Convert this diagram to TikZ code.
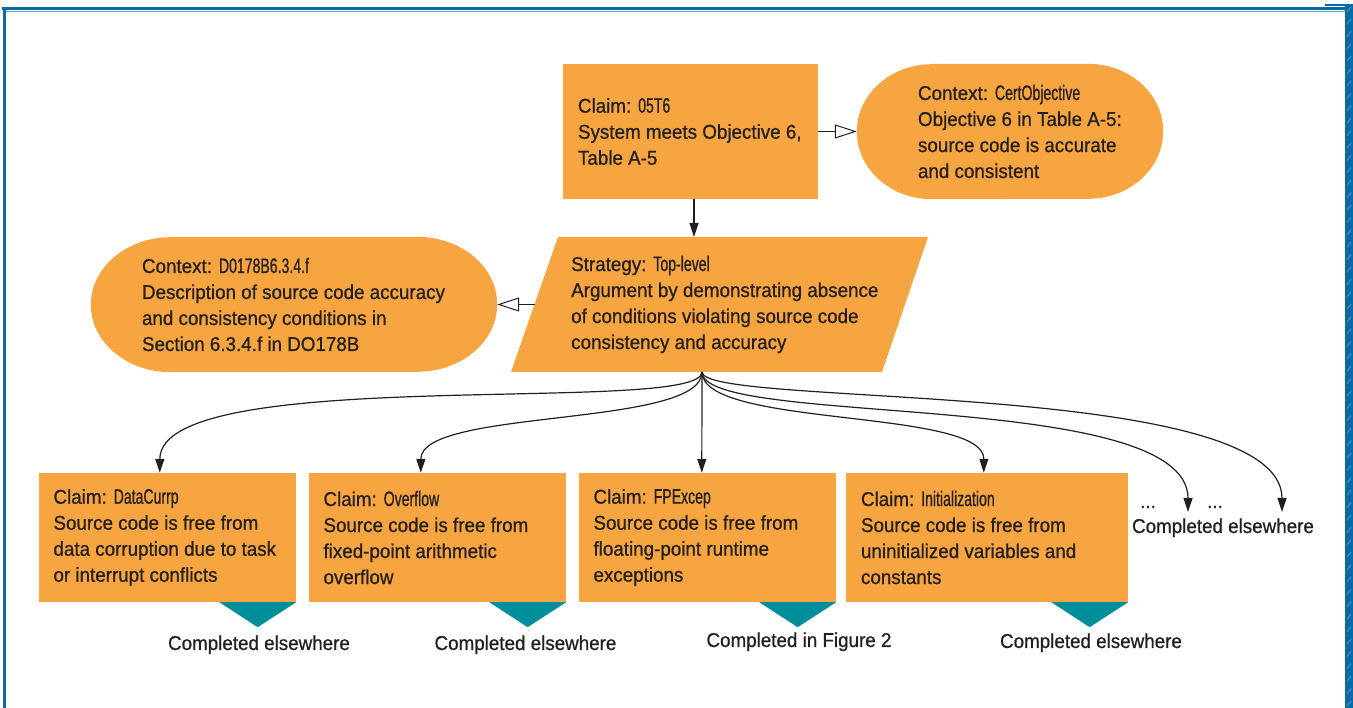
\documentclass[tikz,border=0pt]{standalone}
\usepackage{fontspec}
\setmainfont{Liberation Sans}[FakeStretch=0.94,FakeBold=0.7]
\newfontfamily\idfont{Liberation Sans}[FakeStretch=0.67,FakeBold=0.6]
\newcommand{\ident}[1]{{\idfont\fontsize{21}{26}\selectfont #1}}
\usetikzlibrary{arrows.meta,calc}
\definecolor{gsnorange}{HTML}{F7A541}
\definecolor{gsnteal}{HTML}{008E9B}
\definecolor{frameblue}{HTML}{0A6AA2}
\definecolor{framelight}{HTML}{5FA3C4}
\definecolor{hatchc}{HTML}{3F939F}
\definecolor{ink}{HTML}{231F20}
\begin{document}
\begin{tikzpicture}[x=1pt,y=1pt,
  font=\fontsize{20}{26}\selectfont,
  every node/.style={text=ink},
  box/.style={fill=gsnorange, inner sep=0},
  shapebox/.style={inner sep=0},
  txt/.style={inner sep=0, align=left, anchor=west},
  lbl/.style={inner sep=0, anchor=base},
  conn/.style={draw=ink, line width=1.2pt, -{Triangle[length=14pt,width=9pt]}},
  ctxconn/.style={draw=ink, line width=1.1pt, -{Triangle[length=22pt,width=14pt,fill=white,line width=1pt]}},
  tealtri/.style={fill=gsnteal}
]
\useasboundingbox (0,0) rectangle (1353,708);

% frame
\fill[frameblue] (2,697.5) rectangle (1345,700.5);
\draw[framelight, line width=1pt] (6,696.5) -- (1345,696.5);
\fill[frameblue] (3,0) rectangle (6,700.5);
\fill[frameblue] (1345,0) rectangle (1353,703.5);
\fill[frameblue] (1325,701.5) rectangle (1345,703.5);
\foreach \k in {0,...,56} \draw[hatchc, line width=1.2pt] (1347,{2+\k*12.4}) -- (1351,{7+\k*12.4});

% top claim
\node[box, minimum width=255, minimum height=135] (g1) at (690.5,576.5) {};
\node[txt] (g1t) at ($(g1.west)+(15,0)$) {Claim: \ident{05T6}\\System meets Objective 6,\\Table A-5};

% right context
\node[shapebox, minimum width=306, minimum height=135] (c2) at (1010,576.5) {};
\fill[gsnorange] ($(c2.north west)+(75,0)$) -- ($(c2.north east)+(-75,0)$)
  arc[start angle=90, end angle=-90, x radius=75, y radius=67.5]
  -- ($(c2.south west)+(75,0)$)
  arc[start angle=270, end angle=90, x radius=75, y radius=67.5] -- cycle;
\node[txt] (c2t) at ($(c2.west)+(61,0)$) {Context: \ident{CertObjective}\\Objective 6 in Table A-5:\\source code is accurate\\and consistent};

% strategy
\fill[gsnorange] (558,471) -- (928,471) -- (882,336) -- (511,336) -- cycle;
\node[txt] (st) at (571,403.5) {Strategy: \ident{Top-level}\\Argument by demonstrating absence\\of conditions violating source code\\consistency and accuracy};
\coordinate (sttop) at (694,471);
\coordinate (stbot) at (702,336);
\coordinate (stleft) at (534.7,403.5);

% left context
\node[shapebox, minimum width=406, minimum height=135] (c1) at (294,403.5) {};
\fill[gsnorange] ($(c1.north west)+(80,0)$) -- ($(c1.north east)+(-80,0)$)
  arc[start angle=90, end angle=-90, x radius=80, y radius=67.5]
  -- ($(c1.south west)+(80,0)$)
  arc[start angle=270, end angle=90, x radius=80, y radius=67.5] -- cycle;
\node[txt] (c1t) at ($(c1.west)+(51,0)$) {Context: \ident{D0178B6.3.4.f}\\Description of source code accuracy\\and consistency conditions in\\Section 6.3.4.f in DO178B};

% bottom claims
\node[box, minimum width=257, minimum height=129] (dc) at (167.5,170.5) {};
\node[txt] (dct) at ($(dc.west)+(14.5,0)$) {Claim: \ident{DataCurrp}\\Source code is free from\\data corruption due to task\\or interrupt conflicts};
\node[box, minimum width=257, minimum height=129] (of) at (437.5,170.5) {};
\node[txt] (oft) at ($(of.west)+(14.5,0)$) {Claim: \ident{Overflow}\\Source code is free from\\fixed-point arithmetic\\overflow};
\node[box, minimum width=257, minimum height=129] (fp) at (707.5,170.5) {};
\node[txt] (fpt) at ($(fp.west)+(14.5,0)$) {Claim: \ident{FPExcep}\\Source code is free from\\floating-point runtime\\exceptions};
\node[box, minimum width=282, minimum height=129] (in) at (987,170.5) {};
\node[txt] (int) at ($(in.west)+(15,0)$) {Claim: \ident{Initialization}\\Source code is free from\\uninitialized variables and\\constants};

% undeveloped markers
\fill[tealtri] (dc.south east) -- ++(-77,0) -- ++(38.5,-25) -- cycle;
\fill[tealtri] (of.south east) -- ++(-77,0) -- ++(38.5,-25) -- cycle;
\fill[tealtri] (fp.south east) -- ++(-77,0) -- ++(38.5,-25) -- cycle;
\fill[tealtri] (in.south east) -- ++(-77,0) -- ++(38.5,-25) -- cycle;

\node[lbl] (dcl) at (259,58) {Completed elsewhere};
\node[lbl] (ofl) at (525.5,58) {Completed elsewhere};
\node[lbl] (fpl) at (799,61) {Completed in Figure 2};
\node[lbl] (inl) at (1091,60) {Completed elsewhere};
\node[lbl] (rl) at (1223,175) {Completed elsewhere};
\node[lbl] (d1) at (1148,200) {...};
\node[lbl] (d2) at (1215,200) {...};

\coordinate (dctop) at ($(dc.north west)+(121,0)$);
\coordinate (oftop) at ($(of.north west)+(112,0)$);
\coordinate (fptop) at ($(fp.north west)+(123,0)$);
\coordinate (intop) at ($(in.north west)+(138,0)$);
\coordinate (r1) at (1188,196);
\coordinate (r2) at (1282,196);

% connectors
\draw[conn] ($(g1.south)+(3.5,0)$) -- (sttop);
\draw[ctxconn] (g1.east) -- (c2.west);
\draw[ctxconn] (stleft) -- (c1.east);
\draw[conn] (stbot) .. controls (702,292) and (160,345) .. (dctop);
\draw[conn] (stbot) .. controls (702,280) and (421,300) .. (oftop);
\draw[conn] (stbot) -- (fptop);
\draw[conn] (stbot) .. controls (702,280) and (984,300) .. (intop);
\draw[conn] (stbot) .. controls (702,280) and (1188,320) .. (r1);
\draw[conn] (stbot) .. controls (702,300) and (1282,330) .. (r2);
\end{tikzpicture}
\end{document}
